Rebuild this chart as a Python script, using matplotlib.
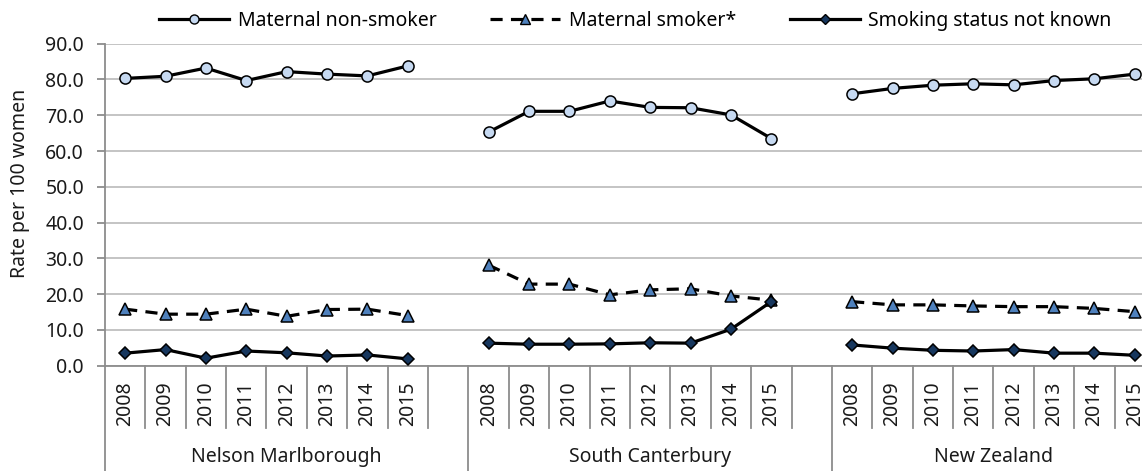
import numpy as np
import matplotlib
matplotlib.use("Agg")
import matplotlib.pyplot as plt
from matplotlib.transforms import blended_transform_factory
from matplotlib.lines import Line2D

plt.rcParams['font.family'] = ['Noto Sans', 'DejaVu Sans']

years = ['2008', '2009', '2010', '2011', '2012', '2013', '2014', '2015']
groups = ['Nelson Marlborough', 'South Canterbury', 'New Zealand']

# one list per group, in the order of groups
non_smoker = [
    [80.3, 80.9, 83.2, 79.7, 82.2, 81.5, 81.0, 83.8],
    [65.3, 71.1, 71.1, 74.0, 72.2, 72.1, 70.1, 63.5],
    [76.0, 77.5, 78.4, 78.8, 78.5, 79.7, 80.2, 81.5],
]
smoker = [
    [15.8, 14.4, 14.4, 15.8, 13.8, 15.7, 15.8, 14.0],
    [28.1, 22.8, 22.8, 19.8, 21.2, 21.5, 19.5, 18.3],
    [17.9, 17.0, 17.0, 16.7, 16.5, 16.5, 16.0, 15.1],
]
not_known = [
    [3.5, 4.5, 2.1, 4.1, 3.6, 2.7, 3.0, 1.9],
    [6.3, 6.0, 6.0, 6.1, 6.4, 6.3, 10.2, 17.9],
    [5.8, 4.9, 4.3, 4.1, 4.5, 3.5, 3.5, 2.9],
]
series_names = ['Maternal non-smoker', 'Maternal smoker*', 'Smoking status not known']

grid_c = '#bfbfbf'
axis_c = '#8c8c8c'
txt_c = '#1a1a1a'
fs = 14

fig = plt.figure(figsize=(11.42, 4.71), dpi=100)
ax = fig.add_axes([0.0919, 0.2236, 0.9195, 0.6836])

n_slots = 26
ax.set_xlim(0, n_slots)
ax.set_ylim(0, 90)
ax.set_yticks(np.arange(0, 91, 10))
ax.set_yticklabels(['%.1f' % v for v in np.arange(0, 91, 10)], fontsize=fs, color=txt_c)
ax.yaxis.grid(True, color=grid_c, linewidth=1.3)
ax.set_axisbelow(True)
ax.set_xticks([])
for s in ['top', 'right']:
    ax.spines[s].set_visible(False)
ax.spines['left'].set_color(axis_c)
ax.spines['left'].set_linewidth(1.3)
ax.spines['bottom'].set_color(axis_c)
ax.spines['bottom'].set_linewidth(1.3)
ax.tick_params(axis='y', length=6, width=1.3, color=axis_c, pad=9)
ax.set_ylabel('Rate per 100 women', fontsize=fs, color=txt_c)
ax.yaxis.set_label_coords(-0.071, 0.567)

styles = [
    dict(marker='o', markerfacecolor='#c6d9f1', linestyle='-'),
    dict(marker='^', markerfacecolor='#4f81bd', linestyle=(0, (3.8, 2.6))),
    dict(marker='D', markerfacecolor='#17375e', linestyle='-'),
]
plot_sizes = [8, 8, 6.5]
legend_sizes = [6.5, 6.5, 5]
all_series = [non_smoker, smoker, not_known]

for g in range(len(groups)):
    xs = 9 * g + np.arange(len(years)) + 0.5
    for sdata, st, ms in zip(all_series, styles, plot_sizes):
        ax.plot(xs, sdata[g], color='black', linewidth=2.3, markersize=ms,
                markeredgecolor='black', markeredgewidth=1.1,
                clip_on=False, zorder=3, **st)

tr = blended_transform_factory(ax.transData, ax.transAxes)
# category boundary lines
for k in range(n_slots + 1):
    bottom = -0.36 if k in (0, 9, 18) else -0.1935
    ax.plot([k, k], [0, bottom], transform=tr, color=axis_c, linewidth=1.3,
            clip_on=False)
for g in range(len(groups)):
    for i, yr in enumerate(years):
        ax.text(9 * g + i + 0.5, -0.119, yr, transform=tr, rotation=90,
                ha='center', va='center', fontsize=fs, color=txt_c)
    end = min(9 * g + 9, n_slots)
    ax.text((9 * g + end) / 2, -0.285, groups[g], transform=tr,
            ha='center', va='center', fontsize=fs, color=txt_c)

handles = [Line2D([], [], color='black', linewidth=2.3, markersize=ms,
                  markeredgecolor='black', markeredgewidth=1.0, **st)
           for st, ms in zip(styles, legend_sizes)]
fig.legend(handles, series_names, loc='center', bbox_to_anchor=(0.5565, 0.955),
           ncol=3, frameon=False, fontsize=fs, handlelength=3.6,
           columnspacing=2.75, handletextpad=0.45)

fig.savefig('out.png', dpi=100)
